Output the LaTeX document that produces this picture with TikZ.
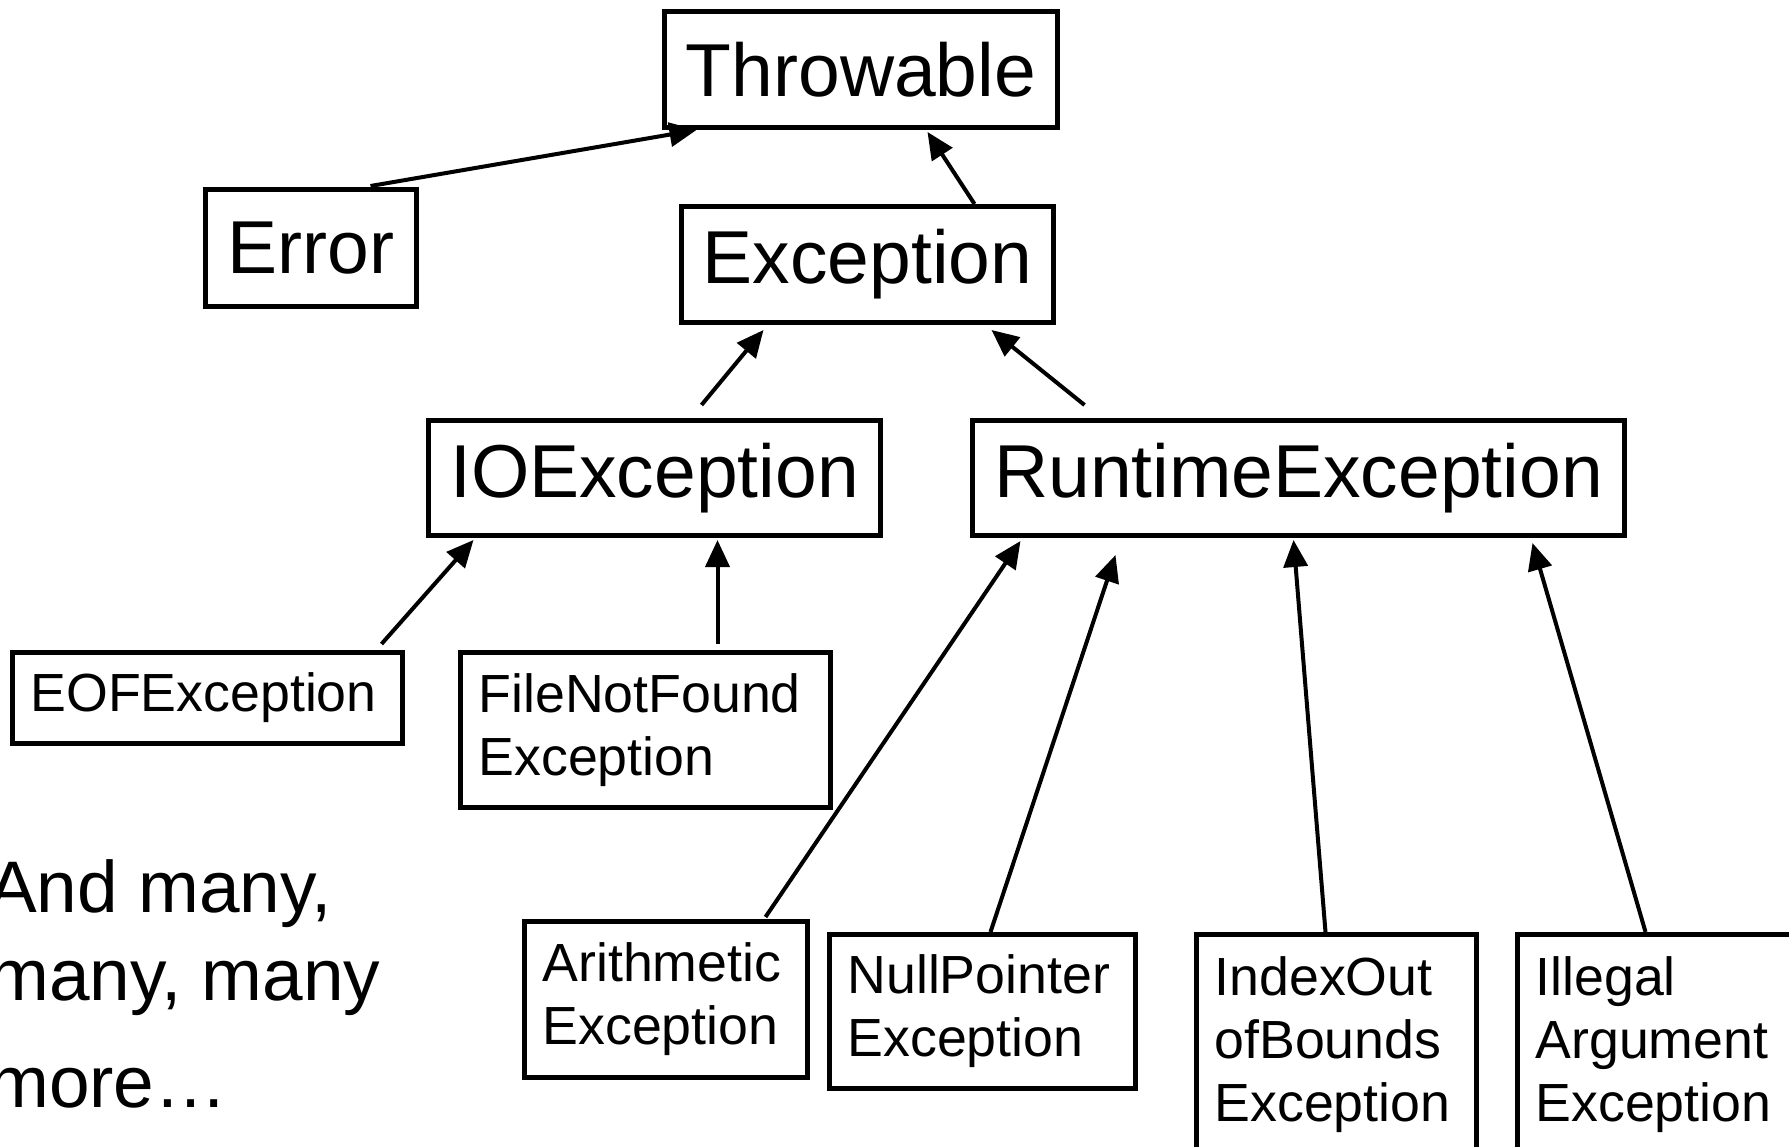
\documentclass[tikz,border=0pt]{standalone}
\usepackage{fontspec}
\setmainfont{Liberation Sans}
\usetikzlibrary{arrows.meta}

\tikzset{
  cls/.style={draw=black, line width=5pt, fill=white, anchor=north west,
    inner sep=0pt, font=\fontsize{75}{88}\selectfont},
  sub/.style={draw=black, line width=5pt, fill=white, anchor=north west,
    inner xsep=18pt, inner ysep=0pt, align=left,
    font=\fontsize{53.7}{63}\selectfont},
  inh/.style={line width=4pt, -{Triangle[length=27pt,width=24pt]}},
}

\begin{document}
\begin{tikzpicture}[x=1pt,y=1pt]
\useasboundingbox (0,0) rectangle (1789,-1147);

% top of the hierarchy
\node[cls, minimum width=393pt, minimum height=116pt] (thr) at (662,-9) {Throwable};
\node[cls, minimum width=211pt, minimum height=117pt] (err) at (203,-187) {Error};
\node[cls, minimum width=372pt, minimum height=116pt] (exc) at (679,-204) {Exception};
\node[cls, minimum width=452pt, minimum height=115pt] (ioe) at (426,-418) {IOException};
\node[cls, minimum width=652pt, minimum height=115pt] (rte) at (970,-418) {RuntimeException};

% checked exceptions under IOException
\node[sub, text width=354pt, minimum height=91pt] (eof) at (10,-650) {EOFException};
\node[sub, text width=334pt, minimum height=155pt] (fnf) at (458,-650) {FileNotFound\\Exception};

% unchecked exceptions under RuntimeException
\node[sub, text width=247pt, minimum height=156pt] (ari) at (522,-919) {Arithmetic\\Exception};
\node[sub, text width=270pt, minimum height=154pt] (nul) at (827,-932) {NullPointer\\Exception};
\node[sub, text width=244pt, minimum height=221pt] (idx) at (1194,-932) {IndexOut\\ofBounds\\Exception};
\node[sub, text width=264pt, minimum height=221pt] (ill) at (1515,-932) {Illegal\\Argument\\Exception};

% side remark (anchored on the baseline of its last line)
\node[anchor=base west, inner sep=0pt, align=left,
      font=\fontsize{73}{88}\selectfont] (more) at (-12,-1107)
  {And many,\\many, many\\[19pt]more\ldots};

% inheritance arrows
\draw[inh] ([xshift=59.5pt,yshift=1pt]err.north) -- ([xshift=-164.5pt]thr.south);
\draw[inh] ([xshift=107pt]exc.north) -- ([xshift=66.5pt,yshift=-2pt]thr.south);
\draw[inh] ([xshift=47pt,yshift=13pt]ioe.north) -- ([xshift=-104pt,yshift=-5pt]exc.south);
\draw[inh] ([xshift=-214pt,yshift=13pt]rte.north) -- ([xshift=124pt,yshift=-5pt]exc.south);
\draw[inh] ([xshift=174pt,yshift=6pt]eof.north) -- ([xshift=-181pt,yshift=-2pt]ioe.south);
\draw[inh] ([xshift=72pt,yshift=6pt]fnf.north) -- ([xshift=63pt,yshift=-2pt]ioe.south);
\draw[inh] ([xshift=99.5pt,yshift=2pt]ari.north) -- ([xshift=-278pt,yshift=-3pt]rte.south);
\draw[inh] ([xshift=8pt]nul.north) -- ([xshift=-183pt,yshift=-17pt]rte.south);
\draw[inh] ([xshift=-11pt]idx.north) -- ([xshift=-5pt,yshift=-2pt]rte.south);
\draw[inh] ([xshift=-22pt]ill.north) -- ([xshift=234pt,yshift=-5pt]rte.south);
\end{tikzpicture}
\end{document}
